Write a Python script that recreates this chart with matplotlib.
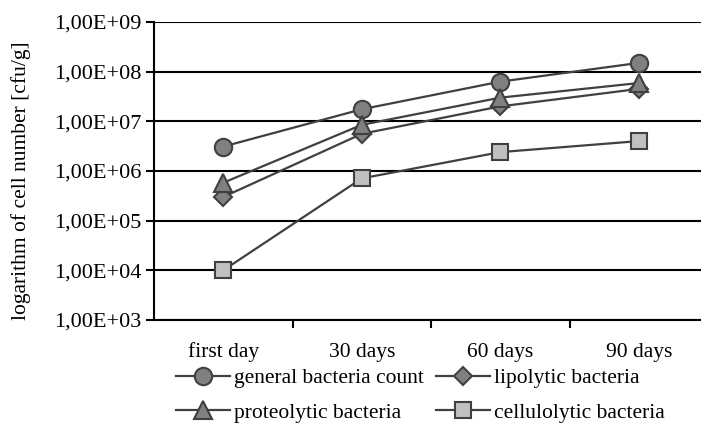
import numpy as np
import matplotlib.pyplot as plt
from matplotlib.ticker import FixedLocator, FuncFormatter

plt.rcParams['font.family'] = ['Liberation Serif', 'DejaVu Serif']

# dane
days = ["first day", "30 days", "60 days", "90 days"]
general = [3.1e6, 1.75e7, 6.3e7, 1.5e8]
lipolytic = [3.0e5, 5.6e6, 2.0e7, 4.5e7]
proteolytic = [5.8e5, 8.5e6, 3.0e7, 5.9e7]
cellulolytic = [1.0e4, 7.1e5, 2.4e6, 4.0e6]

fs = 15.5
fig = plt.figure(figsize=(7.01, 4.23), dpi=100)
ax = fig.add_axes([154/701, 1-320/423, 554/701, 298/423])

x = np.arange(len(days))
lc = '#404040'
kw = dict(color=lc, lw=1.6, markeredgecolor=lc, markeredgewidth=1.5)
l1, = ax.plot(x, general, marker='o', ms=12.5, markerfacecolor='#808080',
              label='general bacteria count', **kw)
l2, = ax.plot(x, lipolytic, marker='D', ms=9, markerfacecolor='#808080',
              label='lipolytic bacteria', **kw)
l3, = ax.plot(x, proteolytic, marker='^', ms=12.5, markerfacecolor='#808080',
              label='proteolytic bacteria', **kw)
l4, = ax.plot(x, cellulolytic, marker='s', ms=12, markerfacecolor='#c0c0c0',
              label='cellulolytic bacteria', **kw)

ax.set_yscale('log')
ax.set_ylim(1e3, 1e9)
ax.set_xlim(-0.5, 3.5)
ax.yaxis.set_major_locator(FixedLocator([10.0**k for k in range(3, 10)]))
ax.yaxis.set_minor_locator(FixedLocator([]))
ax.yaxis.set_major_formatter(FuncFormatter(lambda v, p: "1,00E+%02d" % round(np.log10(v))))
ax.grid(axis='y', color='black', lw=1.5)
ax.set_axisbelow(True)

ax.set_xticks(x)
ax.set_xticklabels(days, va='baseline')
ax.set_xticks([0.5, 1.5, 2.5], minor=True)
ax.tick_params(axis='x', which='major', length=0, pad=27, labelsize=fs)
ax.tick_params(axis='x', which='minor', length=6, width=1.5, direction='out')
ax.tick_params(axis='y', length=6, width=1.5, direction='out', labelsize=16, pad=3)

for s in ['top', 'right']:
    ax.spines[s].set_visible(False)
ax.spines['left'].set_linewidth(1.5)
ax.spines['bottom'].set_linewidth(1.5)

ax.set_ylabel('logarithm of cell number [cfu/g]', fontsize=fs)
ax.yaxis.set_label_coords((31 - 154) / 554, 0.466)

# kolone: general/proteolytic, lipolytic/cellulolytic
fig.legend([l1, l3, l2, l4], [l.get_label() for l in [l1, l3, l2, l4]],
           loc='lower left', bbox_to_anchor=(174/701, -0.005), ncol=2, frameon=False,
           fontsize=fs, handlelength=2.5, columnspacing=0.55, handletextpad=0.2,
           labelspacing=0.68, borderpad=0.1, borderaxespad=0)

plt.savefig('out.png', dpi=100)
